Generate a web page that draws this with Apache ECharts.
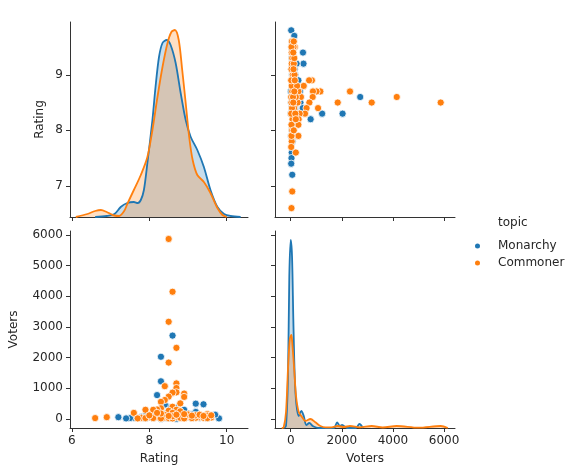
<!DOCTYPE html>
<html>
<head>
<meta charset="utf-8">
<script src="https://cdn.jsdelivr.net/npm/echarts@6/dist/echarts.min.js"></script>
<style>
html, body { margin: 0; padding: 0; background: #fff; }
#main { width: 572px; height: 474px; }
</style>
</head>
<body>
<div id="main"></div>
<script>
// scatter points, one entry per item
var monarchyRating = [9.8, 9.7, 9.6, 9.5, 9.4, 9.4, 9.3, 9.3, 9.2, 9.2, 9.1, 9.1, 9.0, 9.0, 8.9, 8.9, 8.8, 8.8, 8.7, 8.7, 8.7, 8.6, 8.6, 8.6, 8.5, 8.5, 8.5, 8.5, 8.4, 8.4, 8.4, 8.3, 8.3, 8.3, 8.3, 8.2, 8.2, 8.1, 8.1, 8.1, 8.0, 7.9, 7.9, 7.8, 7.6, 7.5, 7.4, 7.2];
var monarchyVoters = [20, 140, 60, 30, 480, 90, 40, 120, 500, 230, 150, 30, 60, 180, 100, 300, 50, 220, 80, 360, 10, 2720, 30, 150, 20, 110, 380, 60, 470, 40, 170, 2030, 1230, 60, 10, 780, 120, 30, 90, 210, 50, 20, 110, 70, 40, 30, 20, 60];

var commonerRating = [8.5, 8.6, 8.5, 8.7, 8.5, 8.4, 8.7, 8.7, 8.9, 8.7, 8.6, 8.5, 8.9, 8.8, 8.4, 8.3, 8.6, 8.3, 8.2, 8.1, 7.9, 8.7, 8.5, 8.6, 7.6, 9.5, 8.8, 8.4, 9.5, 9.0, 8.2, 8.7, 9.3, 8.0, 9.6, 8.4, 8.8, 9.4, 9.2, 7.8, 9.5, 9.1, 8.5, 8.1, 7.9, 6.6, 6.9, 8.9, 8.6, 8.3, 7.7, 9.0, 9.2, 9.3, 8.8, 8.6, 8.5, 8.3, 8.0, 9.4, 9.1, 8.9, 9.6, 8.7, 8.2];
var commonerVoters = [5870, 4150, 3170, 2320, 1840, 1070, 1160, 1010, 830, 870, 860, 730, 720, 510, 620, 560, 400, 350, 310, 300, 300, 300, 270, 200, 200, 160, 150, 130, 110, 80, 70, 60, 60, 60, 50, 50, 40, 40, 40, 40, 30, 30, 30, 30, 30, 30, 60, 20, 20, 20, 20, 150, 120, 140, 250, 90, 100, 180, 120, 100, 110, 160, 120, 140, 200];

// density curves (height in panel pixels)
var monarchyRatingKdeX = [6.6, 6.9, 7.1, 7.26, 7.43, 7.6, 7.7, 7.78, 7.86, 7.95, 8.08, 8.16, 8.25, 8.34, 8.45, 8.55, 8.68, 8.81, 8.94, 9.07, 9.24, 9.41, 9.58, 9.76, 9.93, 10.1, 10.36];
var monarchyRatingKdeY = [0, 1, 3, 10, 14, 15, 14, 17, 27, 54, 97, 130, 160, 174, 177, 172, 154, 124, 97, 80, 67, 50, 27, 10, 3, 1, 0];
var commonerRatingKdeX = [6.1, 6.4, 6.6, 6.75, 6.9, 7.0, 7.1, 7.22, 7.35, 7.43, 7.6, 7.78, 7.95, 8.08, 8.21, 8.34, 8.47, 8.57, 8.66, 8.76, 8.85, 8.94, 9.03, 9.12, 9.24, 9.41, 9.58, 9.76, 9.89, 10.0];
var commonerRatingKdeY = [0, 3, 6, 7, 5, 3, 1.5, 1, 6, 13, 27, 42, 60, 87, 120, 150, 174, 185, 187, 177, 147, 114, 80, 57, 42, 35, 24, 9, 2, 0];
var monarchyVotersKdeX = [-260, -184, -106, -55, 0, 51, 102, 157, 220, 313, 415, 510, 612, 730, 862, 1000, 1120, 1686, 1816, 1922, 2012, 2200, 2550, 2690, 2830];
var monarchyVotersKdeY = [0, 2, 52, 152, 188, 172, 109, 52, 24, 12, 17, 12, 3, 5, 2, 0.5, 0, 0, 5.7, 2, 3, 0, 0, 4, 0];
var commonerVotersKdeX = [-350, -275, -184, -106, -35, 25, 55, 144, 208, 313, 443, 574, 770, 966, 1162, 1360, 1600, 1840, 2080, 2320, 2700, 3170, 3600, 4150, 5000, 5870, 6150];
var commonerVotersKdeY = [0, 0.7, 16, 59, 89, 93, 87, 56, 32, 16, 11, 7, 9, 5.7, 2, 0.7, 0.7, 2, 1, 2, 0.7, 2, 0.5, 2, 0.3, 2, 0];

var ratingTicks = [7, 8, 9];
var ratingXTicks = [6, 8, 10];
var votersTicks = [0, 1000, 2000, 3000, 4000, 5000, 6000];
var votersXTicks = [0, 2000, 4000, 6000];

var blue = '#1f77b4';
var orange = '#ff7f0e';
var textColor = '#262626';
var lineColor = '#333';
var font = 'DejaVu Sans';

function zip(a, b) {
    return a.map(function(v, i) { return [v, b[i]]; });
}

function makeAxis(o) {
    return {
        type: 'value',
        gridIndex: o.grid,
        min: o.min,
        max: o.max,
        show: o.show !== false,
        name: o.name || '',
        nameLocation: 'middle',
        nameGap: o.nameGap || 0,
        nameTextStyle: { color: textColor, fontSize: 12, fontFamily: font },
        axisLine: { show: true, onZero: false, lineStyle: { color: lineColor, width: 1 } },
        axisTick: { show: true, length: 4, customValues: o.ticks, lineStyle: { color: lineColor, width: 1 } },
        axisLabel: {
            show: !!o.labels,
            customValues: o.ticks,
            color: textColor,
            fontSize: 12,
            fontFamily: font,
            margin: 7,
            formatter: function(v) { return String(v); } // no thousands comma
        },
        splitLine: { show: false }
    };
}

function kde(name, color, xs, ys, xi, yi) {
    return {
        name: name,
        type: 'line',
        xAxisIndex: xi,
        yAxisIndex: yi,
        data: zip(xs, ys),
        smooth: 0.3,
        showSymbol: false,
        symbol: 'none',
        lineStyle: { color: color, width: 1.8 },
        areaStyle: { color: color, opacity: 0.25 },
        silent: true
    };
}

function dots(name, color, data, xi, yi) {
    return {
        name: name,
        type: 'scatter',
        xAxisIndex: xi,
        yAxisIndex: yi,
        data: data,
        symbolSize: 7.2,
        itemStyle: { color: color, borderColor: '#fff', borderWidth: 0.8, opacity: 1 }
    };
}

var chart = echarts.init(document.getElementById('main'));

var option = {
    backgroundColor: '#fff',
    animation: false,
    grid: [
        { left: 70, top: 22, width: 178, height: 195, containLabel: false, outerBoundsMode: 'none' },
        { left: 275, top: 22, width: 180, height: 195, containLabel: false, outerBoundsMode: 'none' },
        { left: 70, top: 231, width: 178, height: 197, containLabel: false, outerBoundsMode: 'none' },
        { left: 275, top: 231, width: 180, height: 197, containLabel: false, outerBoundsMode: 'none' }
    ],
    xAxis: [
        makeAxis({ grid: 0, min: 5.95, max: 10.55, ticks: ratingXTicks }),
        makeAxis({ grid: 1, min: -615, max: 6430, ticks: votersXTicks }),
        makeAxis({ grid: 2, min: 5.95, max: 10.55, ticks: ratingXTicks, labels: true, name: 'Rating', nameGap: 25 }),
        makeAxis({ grid: 3, min: -615, max: 6430, ticks: votersXTicks, labels: true, name: 'Voters', nameGap: 25 })
    ],
    yAxis: [
        makeAxis({ grid: 0, min: 6.44, max: 9.95, ticks: ratingTicks, labels: true, name: 'Rating', nameGap: 24 }),
        { type: 'value', gridIndex: 0, min: 0, max: 195, show: false },
        makeAxis({ grid: 1, min: 6.44, max: 9.95, ticks: ratingTicks }),
        makeAxis({ grid: 2, min: -293, max: 6130, ticks: votersTicks, labels: true, name: 'Voters', nameGap: 50 }),
        makeAxis({ grid: 3, min: -293, max: 6130, ticks: votersTicks }),
        { type: 'value', gridIndex: 3, min: 0, max: 197, show: false }
    ],
    legend: {
        data: ['Monarchy', 'Commoner'],
        orient: 'vertical',
        left: 468,
        top: 235,
        icon: 'circle',
        itemWidth: 7,
        itemHeight: 7,
        itemGap: 5,
        selectedMode: false,
        textStyle: { color: textColor, fontSize: 12, fontFamily: font, padding: [0, 0, 0, 12] }
    },
    graphic: [
        { type: 'text', left: 498, top: 217, style: { text: 'topic', fill: textColor, font: '12px "DejaVu Sans"' } }
    ],
    series: [
        kde('Monarchy density', blue, monarchyRatingKdeX, monarchyRatingKdeY, 0, 1),
        kde('Commoner density', orange, commonerRatingKdeX, commonerRatingKdeY, 0, 1),
        dots('Monarchy', blue, zip(monarchyVoters, monarchyRating), 1, 2),
        dots('Commoner', orange, zip(commonerVoters, commonerRating), 1, 2),
        dots('Monarchy', blue, zip(monarchyRating, monarchyVoters), 2, 3),
        dots('Commoner', orange, zip(commonerRating, commonerVoters), 2, 3),
        kde('Monarchy density', blue, monarchyVotersKdeX, monarchyVotersKdeY, 3, 5),
        kde('Commoner density', orange, commonerVotersKdeX, commonerVotersKdeY, 3, 5)
    ]
};

chart.setOption(option);
</script>
</body>
</html>
